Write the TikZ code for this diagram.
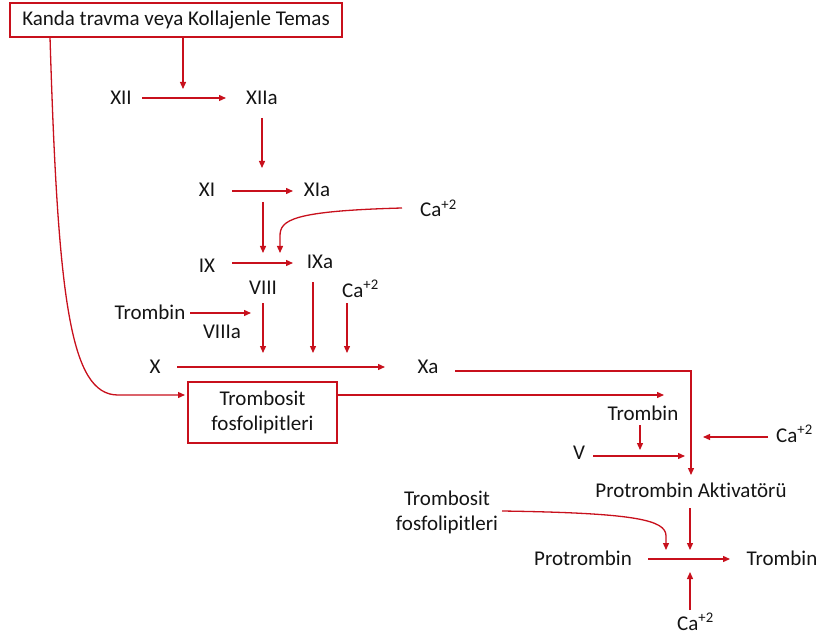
\documentclass[tikz,border=0pt]{standalone}
\usepackage{fontspec}
\setmainfont{Carlito}[Ligatures=CommonOff]
\usetikzlibrary{arrows.meta}
\definecolor{flow}{RGB}{200,16,28}
\definecolor{ink}{RGB}{20,20,20}
\newcommand{\Caion}{Ca\textsuperscript{+2}}
\tikzset{
  lbl/.style={anchor=base, inner sep=0pt, text=ink, font=\fontsize{21}{25}\selectfont},
  lblw/.style={lbl, anchor=base west},
  lblc/.style={lbl, anchor=center, align=center},
  boxed/.style={draw=flow, line width=1.2pt, inner sep=0pt, text=ink, align=center,
                font=\fontsize{21}{25}\selectfont},
  arr/.style={draw=flow, line width=1.3pt, -{Triangle[length=7pt,width=6pt]}},
}
\begin{document}
\begin{tikzpicture}[x=1pt,y=-1pt]
\useasboundingbox (0,0) rectangle (821,644);

% ---- labels and boxes ----
\node[boxed, minimum width=332pt, minimum height=34pt] (trauma) at (176,20) {Kanda travma veya Kollajenle Temas};
\node[lbl] (xii)   at (121,105) {XII};
\node[lbl] (xiia)  at (262,105) {XIIa};
\node[lbl] (xi)    at (207,197) {XI};
\node[lbl] (xia)   at (317,197) {XIa};
\node[lblw] (caA)  at (420,217) {\Caion};
\node[lbl] (ix)    at (207,272) {IX};
\node[lbl] (ixa)   at (320,268) {IXa};
\node[lbl] (viii)  at (263,294) {VIII};
\node[lbl] (thrA)  at (150,319) {Trombin};
\node[lbl] (viiia) at (222,338) {VIIIa};
\node[lblw] (caB)  at (342,297) {\Caion};
\node[lbl] (x)     at (155,373) {X};
\node[lbl] (xa)    at (428,373) {Xa};
\node[boxed, minimum width=149pt, minimum height=61pt] (plt) at (262.5,412.5) {Trombosit\\fosfolipitleri};
\node[lbl] (thrB)  at (643,420) {Trombin};
\node[lbl] (v)     at (579,459) {V};
\node[lblw] (caC)  at (776,442) {\Caion};
\node[lbl] (pa)    at (691,497) {Protrombin Aktivatörü};
\node[lblc] (pltB) at (447,512.5) {Trombosit\\fosfolipitleri};
\node[lbl] (pro)   at (583,565) {Protrombin};
\node[lbl] (thrC)  at (782,565) {Trombin};
\node[lblw] (caD)  at (677,630) {\Caion};

% ---- arrow end points ----
\coordinate (k12)  at (183,89);
\coordinate (s12)  at (142,98);   \coordinate (e12)  at (226,98);
\coordinate (s12d) at (262,118);  \coordinate (e12d) at (262,168);
\coordinate (s11)  at (232,191);  \coordinate (e11)  at (293,191);
\coordinate (s11d) at (263,202);  \coordinate (e11d) at (263,253);
\coordinate (sCaA) at (402,208);  \coordinate (eCaA) at (280,253);
\coordinate (s9)   at (232,263);  \coordinate (e9)   at (293,263);
\coordinate (sThA) at (190,313);  \coordinate (eThA) at (251,313);
\coordinate (s8d)  at (263,303);  \coordinate (e8d)  at (263,353);
\coordinate (s9d)  at (313,282);  \coordinate (e9d)  at (313,353);
\coordinate (sCaB) at (347,303);  \coordinate (eCaB) at (347,353);
\coordinate (s10)  at (177,367);  \coordinate (e10)  at (385,367);
\coordinate (sXa)  at (455,371);  \coordinate (cXa)  at (691,371);  \coordinate (eXa) at (691,475);
\coordinate (tl)   at (50,37);    \coordinate (pin)  at (185,395);
\coordinate (pout) at (337,395);  \coordinate (pend) at (664,395);
\coordinate (sThB) at (640,425);  \coordinate (eThB) at (640,450);
\coordinate (s5)   at (593,456);  \coordinate (e5)   at (685,456);
\coordinate (sCaC) at (768,437);  \coordinate (eCaC) at (703,437);
\coordinate (sPA)  at (690,508);  \coordinate (ePA)  at (690,550);
\coordinate (sPl)  at (502,511);  \coordinate (ePl)  at (666,550);
\coordinate (sPr)  at (648,559);  \coordinate (ePr)  at (730,559);
\coordinate (sCaD) at (690,610);  \coordinate (eCaD) at (690,572);

% ---- intrinsic pathway ----
\draw[arr] (trauma.south -| k12) -- (k12);
\draw[arr] (s12) -- (e12);
\draw[arr] (s12d) -- (e12d);
\draw[arr] (s11) -- (e11);
\draw[arr] (s11d) -- (e11d);
\draw[arr] (sCaA) .. controls (292,211) and (280,220) .. (280,236) -- (eCaA);
\draw[arr] (s9) -- (e9);
\draw[arr] (sThA) -- (eThA);
\draw[arr] (s8d) -- (e8d);
\draw[arr] (s9d) -- (e9d);
\draw[arr] (sCaB) -- (eCaB);
\draw[arr] (s10) -- (e10);
\draw[arr] (sXa) -- (cXa) -- (eXa);

% ---- platelet phospholipids ----
\draw[arr] (tl) .. controls (58,300) and (70,395) .. (118,395) -- (pin);
\draw[arr] (pout) -- (pend);

% ---- prothrombin activator ----
\draw[arr] (sThB) -- (eThB);
\draw[arr] (s5) -- (e5);
\draw[arr] (sCaC) -- (eCaC);

% ---- prothrombin to thrombin ----
\draw[arr] (sPA) -- (ePA);
\draw[arr] (sPl) .. controls (636,513) and (666,520) .. (666,536) -- (ePl);
\draw[arr] (sPr) -- (ePr);
\draw[arr] (sCaD) -- (eCaD);
\end{tikzpicture}
\end{document}
